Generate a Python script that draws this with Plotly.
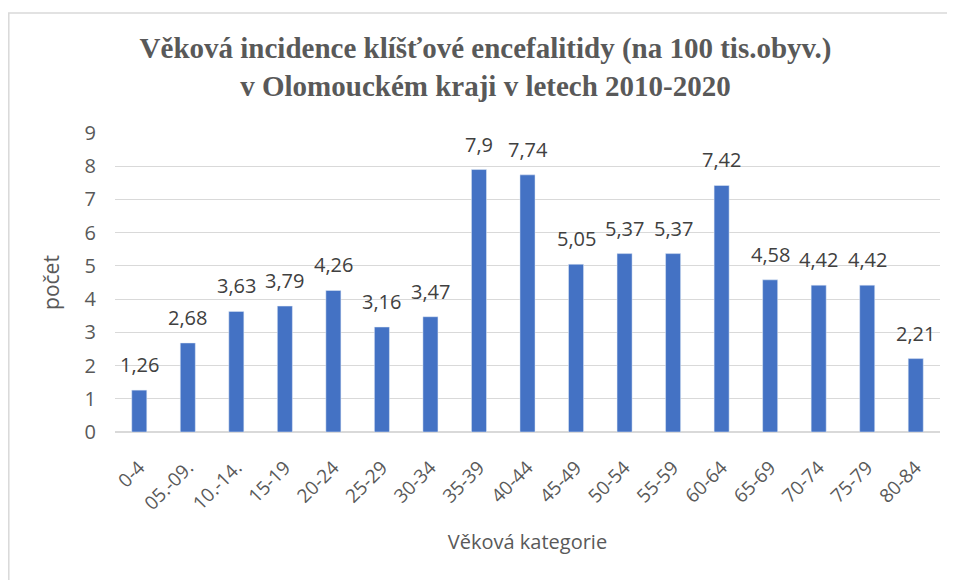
import plotly.graph_objects as go

categories = ["0-4", "05.-09.", "10.-14.", "15-19", "20-24", "25-29", "30-34", "35-39",
              "40-44", "45-49", "50-54", "55-59", "60-64", "65-69", "70-74", "75-79", "80-84"]
values = [1.26, 2.68, 3.63, 3.79, 4.26, 3.16, 3.47, 7.9, 7.74, 5.05, 5.37, 5.37, 7.42, 4.58, 4.42, 4.42, 2.21]
labels = [f"{v:g}".replace(".", ",") for v in values]
y_ticks = list(range(0, 10))

fig = go.Figure(go.Bar(
    x=categories, y=values,
    marker=dict(color="#4472C4"), cliponaxis=False,
))

for c, v, t in zip(categories, values, labels):
    fig.add_annotation(x=c, y=v, text=t, showarrow=False, yanchor="bottom", yshift=10,
                       font=dict(size=20, color="#404040", family="Open Sans"))

fig.update_layout(
    width=955, height=580,
    margin=dict(l=107, r=23, t=125, b=156, autoexpand=False),
    paper_bgcolor="white", plot_bgcolor="white",
    bargap=0.69,
    showlegend=False,
    title=dict(
        text="Věková incidence klíšťové encefalitidy (na 100 tis.obyv.)<br>v Olomouckém kraji v letech 2010-2020",
        x=0.5, xanchor="center", y=0.914, yanchor="middle",
        font=dict(family="Liberation Serif", size=29, color="#595959", weight="bold"),
    ),
    xaxis=dict(
        tickangle=-45, tickfont=dict(size=19, color="#595959", family="Open Sans"),
        title=dict(text="Věková kategorie", font=dict(size=20, color="#595959", family="Open Sans"), standoff=20),
        showgrid=False, showline=False, ticks="outside", ticklen=16, tickcolor="rgba(0,0,0,0)",
        automargin=False,
    ),
    yaxis=dict(
        range=[0, 9], tickvals=y_ticks, showgrid=True, gridcolor="#D9D9D9", gridwidth=1,
        tickfont=dict(size=20, color="#595959", family="Open Sans"),
        title=dict(text="počet", font=dict(size=21, color="#595959", family="Open Sans"), standoff=19),
        zeroline=True, zerolinecolor="#D9D9D9", ticks="outside", ticklen=14,
        tickcolor="rgba(0,0,0,0)", automargin=False,
    ),
    shapes=[dict(type="rect", xref="paper", yref="paper",
                 x0=(0.8 - 107) / 825, x1=1.05, y0=-0.6, y1=(424 - 5) / 299,
                 line=dict(color="#D9D9D9", width=1.5), layer="below")],
)

fig.write_html("out.html")
